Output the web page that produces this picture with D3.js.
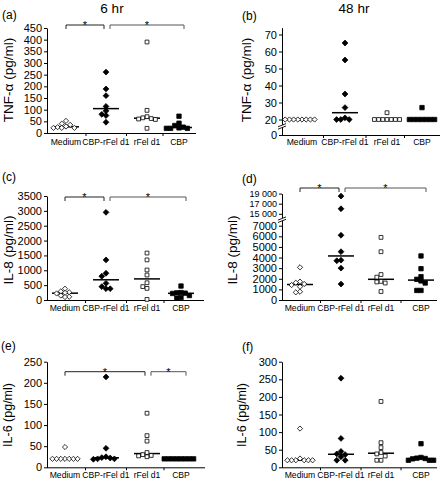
<!DOCTYPE html>
<html><head><meta charset="utf-8">
<script src="https://cdn.jsdelivr.net/npm/d3@7"></script>
<style>
body{margin:0;background:#fff}
svg{display:block}
text{font-family:"Liberation Sans",Arial,Helvetica,sans-serif;fill:#000}
</style>
</head><body>
<svg id="chart" width="448" height="480"></svg>
<script>
const categories = ["Medium", "CBP-rFel d1", "rFel d1", "CBP"];

// values per category (Medium, CBP-rFel d1, rFel d1, CBP)
const tnf6hr = [
  [52, 40, 35, 28, 25, 22, 22, 22],
  [261, 189, 160, 114, 95, 80, 75, 46],
  [390, 97, 70, 65, 62, 60, 58, 20],
  [72, 42, 32, 25, 22, 20, 20, 20]
];
const tnf48hr = [
  [20, 20, 20, 20, 20, 20, 20, 20],
  [65, 55, 35, 27, 21, 20, 20, 20],
  [24, 20, 20, 20, 20, 20, 20, 20],
  [27, 20, 20, 20, 20, 20, 20, 20]
];
const il8_6hr = [
  [380, 290, 260, 240, 220, 150, 110, 100],
  [2950, 1350, 900, 800, 560, 450, 380, 380],
  [1580, 1350, 1010, 840, 580, 450, 390, 20],
  [470, 250, 240, 230, 220, 150, 80, 60]
];
const il8_48hr = [
  [3080, 1730, 1630, 1510, 1410, 1250, 780, 720],
  [18500, 16000, 6100, 4550, 3750, 3700, 3000, 1500],
  [5900, 4550, 2400, 2150, 1750, 1700, 1600, 800],
  [4150, 2950, 2200, 1950, 1800, 1600, 900, 900]
];
const il6_6hr = [
  [48, 20, 20, 20, 20, 20, 20, 20],
  [214, 45, 25, 23, 22, 20, 20, 19],
  [128, 75, 62, 35, 30, 28, 27, 25],
  [20, 20, 20, 20, 20, 20, 20, 20]
];
const il6_48hr = [
  [110, 25, 20, 20, 20, 20, 20, 20],
  [253, 82, 45, 38, 36, 30, 20, 20],
  [187, 70, 56, 42, 38, 32, 20, 20],
  [67, 28, 26, 25, 24, 20, 20, 20]
];

const tnf6hrTicks = [0, 50, 100, 150, 200, 250, 300, 350, 400, 450];
const tnf48hrTicks = [0, 20, 30, 40, 50, 60, 70];
const il8_6hrTicks = [0, 500, 1000, 1500, 2000, 2500, 3000, 3500];
const il8_48hrTicks = [0, 1000, 2000, 3000, 4000, 5000, 6000, 7000, 15000, 17000, 19000];
const il6_6hrTicks = [0, 50, 100, 150, 200, 250];
const il6_48hrTicks = [0, 50, 100, 150, 200, 250, 300];

// significance brackets: [from category index, to category index]
const sigTnf6hr = [[0, 1], [1, 3]];
const sigIl8_6hr = [[0, 1], [1, 3]];
const sigIl8_48hr = [[0, 1], [1, 3]];
const sigIl6_6hr = [[0, 2], [2, 3]];

const titles = ["6 hr", "48 hr"];
const panelLabels = ["(a)", "(b)", "(c)", "(d)", "(e)", "(f)"];
const yTitles = ["TNF-\u03b1 (pg/ml)", "TNF-\u03b1 (pg/ml)", "IL-8 (pg/ml)", "IL-8 (pg/ml)", "IL-6 (pg/ml)", "IL-6 (pg/ml)"];

const svg = d3.select("#chart");
const FONT = '"Liberation Sans",Arial,Helvetica,sans-serif';

const markerPaths = [
  "M0,-2.6L2.6,0L0,2.6L-2.6,0Z",
  "M0,-2.9L2.9,0L0,2.9L-2.9,0Z",
  "M-1.9,-1.9h3.8v3.8h-3.8Z",
  "M-2.2,-2.2h4.4v4.4h-4.4Z"
];
const markerFill = ["#fff", "#000", "#fff", "#000"];

const panels = [
  {lbl: 0, data: tnf6hr, ticks: tnf6hrTicks, ydom: [0, 450], yr: [133, 28], axisX: 47, xEnd: 196,
   xpos: [66, 106, 147, 179], xlabY: 145, lblPos: [2, 18.5], ylabPos: [9, 80], ylabSize: 13.5,
   sig: sigTnf6hr, sigY: 25},
  {lbl: 1, data: tnf48hr, ticks: tnf48hrTicks, ydom: [0, 20, 74], yr: [135, 119.5, 27.7], axisX: 282, xEnd: 440,
   xpos: [302, 345, 387, 422], xlabY: 145, lblPos: [242, 19.5], ylabPos: [247, 80], ylabSize: 13.5,
   brk: 126},
  {lbl: 2, data: il8_6hr, ticks: il8_6hrTicks, ydom: [0, 3500], yr: [300, 196], axisX: 47, xEnd: 204,
   xpos: [65, 106, 147, 181], xlabY: 311, lblPos: [2, 181], ylabPos: [9, 250], ylabSize: 13.5,
   sig: sigIl8_6hr, sigY: 197},
  {lbl: 3, data: il8_48hr, ticks: il8_48hrTicks, ydom: [0, 7000, 15000, 19000], yr: [300, 225.7, 213.8, 193.6],
   axisX: 282, xEnd: 437, xpos: [300, 341, 381, 421], xlabY: 311, lblPos: [242, 183], ylabPos: [233, 250],
   ylabSize: 13.5, sig: sigIl8_48hr, sigY: 188, brk: 219.3},
  {lbl: 4, data: il6_6hr, ticks: il6_6hrTicks, ydom: [0, 250], yr: [467.3, 361.7], axisX: 47, xEnd: 205,
   xpos: [65, 106, 147, 181], xlabY: 478, lblPos: [1, 349.5], ylabPos: [9, 415], ylabSize: 12.5,
   sig: sigIl6_6hr, sigY: 371.7},
  {lbl: 5, data: il6_48hr, ticks: il6_48hrTicks, ydom: [0, 300], yr: [467.3, 361.7], axisX: 282, xEnd: 437,
   xpos: [300, 341, 381, 421], xlabY: 478, lblPos: [242, 351], ylabPos: [243, 415], ylabSize: 12.5}
];

function tickFmt(v) {
  return v >= 10000 ? d3.format(",")(v).replace(",", " ") : String(v);
}

function swarm(vals, y, step, dist) {
  const placed = [];
  const pts = vals.map(v => ({v: v, py: y(v)})).sort((a, b) => b.v - a.v);
  pts.forEach(d => {
    d.dx = 0;
    for (let k = 0; k < 60; k++) {
      const n = Math.ceil(k / 2);
      const off = k === 0 ? 0 : (k % 2 ? -n * step : n * step);
      if (placed.every(q => Math.hypot(q.dx - off, q.py - d.py) >= dist)) { d.dx = off; break; }
    }
    placed.push(d);
  });
  return pts;
}

// column titles
svg.append("text").attr("x", 112).attr("y", 13).attr("text-anchor", "middle")
  .style("font-size", "13.5px").text(titles[0]);
svg.append("text").attr("x", 354).attr("y", 13).attr("text-anchor", "middle")
  .style("font-size", "13.5px").text(titles[1]);

panels.forEach(p => {
  const g = svg.append("g");
  const y = d3.scaleLinear().domain(p.ydom).range(p.yr);
  const x = d3.scaleOrdinal().domain(categories).range(p.xpos);
  const y0 = y(0);

  // panel label
  g.append("text").attr("x", p.lblPos[0]).attr("y", p.lblPos[1]).style("font-size", "12px")
    .text(panelLabels[p.lbl]);

  // y axis title
  g.append("text").attr("transform", `translate(${p.ylabPos[0]},${p.ylabPos[1]}) rotate(-90)`)
    .attr("text-anchor", "middle").attr("dominant-baseline", "middle")
    .style("font-size", p.ylabSize + "px").text(yTitles[p.lbl]);

  // y axis
  const ax = g.append("g").attr("transform", `translate(${p.axisX},0)`)
    .call(d3.axisLeft(y).tickValues(p.ticks).tickSize(3).tickSizeOuter(0).tickPadding(2).tickFormat(tickFmt));
  ax.attr("font-family", FONT).attr("font-size", 11);
  ax.selectAll("text").attr("fill", "#000");
  ax.selectAll(".tick").filter(d => d >= 10000).select("text").attr("font-size", 9);
  ax.selectAll("line,path").attr("stroke", "#000");

  // x axis line
  g.append("line").attr("x1", p.axisX).attr("x2", p.xEnd).attr("y1", y0 + 0.5).attr("y2", y0 + 0.5)
    .attr("stroke", "#000").attr("stroke-width", 1);
  // boundary ticks
  const bounds = d3.pairs(categories).map(([a, b]) => (x(a) + x(b)) / 2);
  g.selectAll(".bt").data(bounds).join("line")
    .attr("x1", d => d).attr("x2", d => d).attr("y1", y0 + 0.5).attr("y2", y0 + 3)
    .attr("stroke", "#000");
  // category labels
  g.selectAll(".cl").data(categories).join("text")
    .attr("x", d => x(d)).attr("y", p.xlabY).attr("text-anchor", "middle")
    .style("font-size", "8.6px").text(d => d);

  // axis break
  if (p.brk) {
    const bx = p.axisX, by = p.brk;
    g.append("rect").attr("x", bx - 3).attr("y", by - 1.2).attr("width", 6).attr("height", 2.4).attr("fill", "#fff");
    g.append("line").attr("x1", bx - 4).attr("y1", by + 0.8).attr("x2", bx + 4).attr("y2", by - 2.4).attr("stroke", "#000").attr("stroke-width", 0.9);
    g.append("line").attr("x1", bx - 4).attr("y1", by + 3.2).attr("x2", bx + 4).attr("y2", by).attr("stroke", "#000").attr("stroke-width", 0.9);
  }

  // significance brackets
  if (p.sig) {
    p.sig.forEach(([a, b], i) => {
      const x1 = x(categories[a]) + (a > 0 ? 4 : 0);
      const x2 = x(categories[b]) + (b === categories.length - 1 ? 5 : -2);
      const col = i === 0 ? "#222" : "#555";
      g.append("path").attr("d", `M${x1},${p.sigY + 4}V${p.sigY}H${x2}V${p.sigY + 4}`)
        .attr("fill", "none").attr("stroke", col).attr("stroke-width", 1);
      g.append("text").attr("x", (x1 + x2) / 2).attr("y", p.sigY + 3.8).attr("text-anchor", "middle")
        .style("font-size", "11px").text("*");
    });
  }

  // data: median lines and points
  p.data.forEach((vals, ci) => {
    const cx = x(categories[ci]);
    const med = d3.median(vals);
    g.append("line").attr("x1", cx - 13).attr("x2", cx + 13).attr("y1", y(med)).attr("y2", y(med))
      .attr("stroke", "#000").attr("stroke-width", 1.5);
    const pts = swarm(vals, y, 4.2, 4.0);
    g.selectAll(null).data(pts).join("path")
      .attr("d", markerPaths[ci])
      .attr("transform", d => `translate(${cx + d.dx},${d.py})`)
      .attr("fill", markerFill[ci]).attr("stroke", "#000").attr("stroke-width", 0.8);
  });
});
</script>
</body></html>
